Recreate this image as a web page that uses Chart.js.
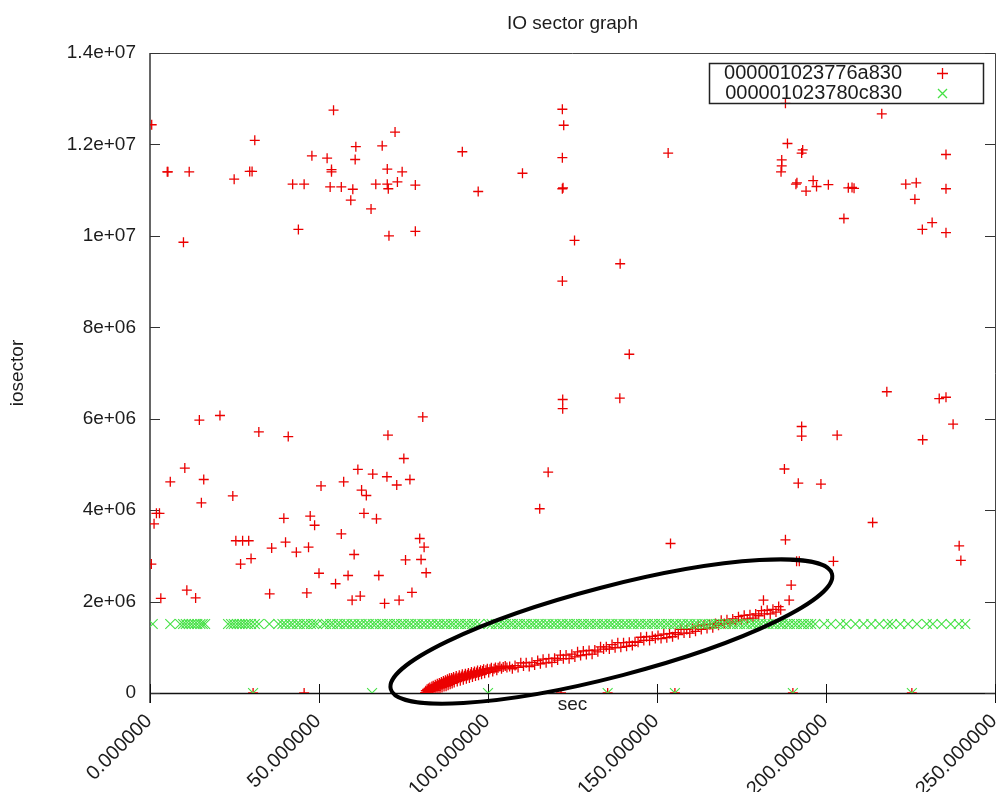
<!DOCTYPE html>
<html>
<head>
<meta charset="utf-8">
<title>IO sector graph</title>
<script src="https://cdn.jsdelivr.net/npm/chart.js@4.4.1/dist/chart.umd.min.js"></script>
<style>
  html, body { margin: 0; padding: 0; background: #fff; }
  #wrap { width: 998px; height: 792px; }
</style>
</head>
<body>
<div id="wrap"><canvas id="ioChart" width="998" height="792"></canvas></div>
<script>
// Axis ticks (gnuplot style labels)
const xTickValues = [0, 50, 100, 150, 200, 250];
const xTickLabels = ['0.000000', '50.000000', '100.000000', '150.000000', '200.000000', '250.000000'];
const yTickValues = [0, 2e6, 4e6, 6e6, 8e6, 10e6, 12e6, 14e6];
const yTickLabels = ['0', '2e+06', '4e+06', '6e+06', '8e+06', '1e+07', '1.2e+07', '1.4e+07'];

const seriesNames = ['000001023776a830', '000001023780c830'];

// Device 1: scattered random requests
const redSec = [
  0.5, 5.1, 5.3, 11.6, 9.9, 31.0, 24.9, 29.5, 30.2, 54.3, 47.9, 52.4, 60.9, 60.7, 68.7, 72.5,
  53.7, 53.7, 42.2, 45.6, 53.3, 56.6, 60.0, 59.4, 65.4, 66.8, 70.2, 74.6, 70.2, 70.5, 73.2, 78.5,
  43.9, 70.7, 78.5,
  122.0, 122.4, 92.4, 153.3, 110.2, 97.1, 122.0, 122.0, 122.2, 125.6, 139.1, 122.0, 141.8, 122.1,
  122.1, 139.0, 117.8, 115.3, 154.0,
  188.0, 216.5, 188.6, 193.1, 192.8, 186.9, 186.9, 186.7, 191.1, 191.4, 194.1, 196.2, 197.2, 200.7,
  206.6, 207.7, 208.3, 205.3, 223.6, 226.7, 226.3, 235.5, 235.5, 228.5, 231.4, 235.5, 218.0, 233.5,
  235.5, 237.6, 228.6, 192.8, 192.8, 203.3, 187.7, 191.8, 198.5, 213.8, 188.0, 239.4, 239.9, 191.3,
  192.1, 202.2, 189.7, 189.1, 181.5,
  14.6, 20.7, 32.2, 40.9, 70.4, 80.7, 75.1, 10.3, 6.0, 15.9, 15.2, 24.5, 50.6, 57.3, 61.5, 65.9,
  70.1, 73.0, 76.9, 62.6, 64.0, 63.3, 67.0, 1.9, 2.8, 1.2, 39.6, 47.4, 48.7, 56.6, 25.4, 27.4,
  29.2, 26.8, 29.9, 36.0, 40.1, 43.3, 46.9, 60.4, 50.0, 54.9, 58.6, 67.7, 75.6, 79.8, 81.1, 80.2,
  81.7, 0.4, 3.2, 10.9, 13.5, 35.4, 46.4, 59.8, 62.2, 69.4, 73.7, 77.5,
  30.5, 45.6, 121.6, 135.4, 155.3, 190.2, 225.4
];
const redSector = [
  12.43e6, 11.40e6, 11.40e6, 11.40e6, 9.86e6, 12.09e6, 11.24e6, 11.41e6, 11.41e6, 12.75e6, 11.75e6, 11.70e6, 11.95e6, 11.67e6, 11.97e6, 12.27e6,
  11.40e6, 11.45e6, 11.13e6, 11.13e6, 11.07e6, 11.07e6, 11.02e6, 10.78e6, 10.59e6, 11.13e6, 11.46e6, 11.40e6, 11.13e6, 11.03e6, 11.18e6, 11.11e6,
  10.14e6, 10.00e6, 10.10e6,
  12.77e6, 12.42e6, 11.84e6, 11.81e6, 11.37e6, 10.97e6, 11.71e6, 11.03e6, 11.05e6, 9.90e6, 9.39e6, 9.01e6, 7.41e6, 6.42e6,
  6.22e6, 6.45e6, 4.83e6, 4.03e6, 3.27e6,
  12.90e6, 12.67e6, 12.02e6, 11.88e6, 11.81e6, 11.66e6, 11.53e6, 11.40e6, 11.13e6, 11.16e6, 10.98e6, 11.21e6, 11.08e6, 11.12e6,
  11.05e6, 11.06e6, 11.04e6, 10.38e6, 11.13e6, 11.16e6, 10.80e6, 11.78e6, 11.03e6, 10.14e6, 10.29e6, 10.07e6, 6.59e6, 6.44e6,
  6.47e6, 5.88e6, 5.54e6, 5.83e6, 5.62e6, 5.64e6, 4.90e6, 4.59e6, 4.57e6, 3.73e6, 3.35e6, 3.22e6, 2.90e6, 2.88e6,
  2.88e6, 2.88e6, 2.36e6, 2.03e6, 2.03e6,
  5.97e6, 6.07e6, 5.71e6, 5.61e6, 5.64e6, 6.04e6, 5.13e6, 4.92e6, 4.62e6, 4.67e6, 4.16e6, 4.31e6, 4.53e6, 4.62e6, 4.89e6, 4.79e6,
  4.73e6, 4.55e6, 4.67e6, 4.44e6, 4.32e6, 3.93e6, 3.81e6, 3.93e6, 3.93e6, 3.70e6, 3.82e6, 3.87e6, 3.67e6, 3.48e6, 3.33e6, 3.33e6,
  3.33e6, 2.82e6, 2.94e6, 3.17e6, 3.30e6, 3.08e6, 3.19e6, 3.03e6, 2.62e6, 2.39e6, 2.57e6, 2.57e6, 2.91e6, 3.38e6, 3.19e6, 2.92e6,
  2.63e6, 2.82e6, 2.07e6, 2.25e6, 2.08e6, 2.17e6, 2.19e6, 2.03e6, 2.12e6, 1.96e6, 2.03e6, 2.20e6,
  0, 0, 0, 0, 0, 0, 0
];

// Device 1: the sequential run (sector climbs steadily with time)
const seqSec = [
  81.4, 81.6, 81.8, 82.0, 82.2, 82.4, 82.6, 82.8, 83.0, 83.2, 83.4, 83.6, 83.8, 84.0, 84.2, 84.4,
  84.6, 84.8, 85.0, 85.2, 85.4, 85.6, 85.8, 86.0, 86.2, 86.4, 86.6, 86.8, 87.0, 87.2, 87.4, 87.6,
  87.8, 88.0, 88.2, 88.4, 88.6, 88.8, 89.0, 89.2, 89.4, 89.6, 89.8, 90.0, 90.3, 90.6, 90.9, 91.2,
  91.5, 91.8, 92.1, 92.4, 92.7, 93.0, 93.3, 93.6, 93.9, 94.2, 94.5, 94.8, 95.1, 95.4, 95.7, 96.0,
  96.3, 96.6, 96.9, 97.2, 97.5, 97.8, 98.1, 98.4, 98.7, 99.0, 99.4, 99.8, 100.2, 100.6, 101.0, 101.4,
  101.8, 102.2, 102.6, 103.0, 103.5, 104.0, 104.5,
  105.1, 105.6, 106.4, 107.2, 108.0, 108.9, 109.7, 110.5, 111.3, 112.2, 113.0, 113.8, 114.7, 115.5,
  116.3, 117.2, 118.0, 118.9, 119.7, 120.6, 121.4, 122.3, 123.1, 124.0, 124.8, 125.7, 126.5, 127.4,
  128.2, 129.1, 129.9, 130.8, 131.6, 132.5, 133.3, 134.2, 135.0, 135.9, 136.7, 137.6, 138.4, 139.3,
  140.1, 141.0, 141.8, 142.7, 143.5, 144.4, 145.2, 146.1, 146.9, 147.8, 148.6, 149.5, 150.3, 151.2,
  152.0, 152.9, 153.7, 154.6, 155.4, 156.3, 157.1, 158.0, 158.8, 159.7, 160.5, 161.4, 162.2, 163.1,
  163.9, 164.8, 165.6, 166.5, 167.3, 168.2, 169.0, 169.9, 170.7, 171.6, 172.4, 173.3, 174.1, 175.0,
  175.8, 176.7, 177.5, 178.4, 179.2, 180.1, 180.9, 181.8, 182.6, 183.5, 184.3, 185.2, 186.0, 186.6
];
const seqSector = [
  0.01e6, 0.05e6, 0.02e6, 0.08e6, 0.03e6, 0.10e6, 0.04e6, 0.12e6, 0.03e6, 0.09e6, 0.14e6, 0.05e6, 0.16e6, 0.08e6, 0.13e6, 0.18e6,
  0.06e6, 0.15e6, 0.20e6, 0.09e6, 0.17e6, 0.22e6, 0.11e6, 0.19e6, 0.24e6, 0.12e6, 0.21e6, 0.26e6, 0.14e6, 0.23e6, 0.28e6, 0.15e6,
  0.25e6, 0.30e6, 0.17e6, 0.27e6, 0.32e6, 0.19e6, 0.28e6, 0.33e6, 0.21e6, 0.30e6, 0.35e6, 0.23e6, 0.32e6, 0.37e6, 0.25e6, 0.34e6,
  0.39e6, 0.27e6, 0.36e6, 0.41e6, 0.29e6, 0.38e6, 0.42e6, 0.31e6, 0.40e6, 0.44e6, 0.33e6, 0.41e6, 0.46e6, 0.35e6, 0.43e6, 0.47e6,
  0.37e6, 0.45e6, 0.49e6, 0.39e6, 0.46e6, 0.50e6, 0.41e6, 0.48e6, 0.52e6, 0.43e6, 0.50e6, 0.53e6, 0.45e6, 0.52e6, 0.55e6, 0.47e6,
  0.53e6, 0.56e6, 0.50e6, 0.55e6, 0.58e6, 0.53e6, 0.57e6,
  0.59e6, 0.56e6, 0.58e6, 0.53e6, 0.60e6, 0.56e6, 0.66e6, 0.59e6, 0.66e6, 0.58e6, 0.67e6, 0.61e6, 0.71e6, 0.64e6,
  0.74e6, 0.66e6, 0.75e6, 0.67e6, 0.76e6, 0.72e6, 0.83e6, 0.75e6, 0.83e6, 0.75e6, 0.85e6, 0.79e6, 0.90e6, 0.82e6,
  0.92e6, 0.84e6, 0.93e6, 0.85e6, 0.94e6, 0.90e6, 1.01e6, 0.96e6, 1.01e6, 0.96e6, 1.06e6, 0.99e6, 1.10e6, 1.00e6,
  1.10e6, 1.02e6, 1.11e6, 1.04e6, 1.12e6, 1.11e6, 1.22e6, 1.15e6, 1.23e6, 1.15e6, 1.24e6, 1.19e6, 1.26e6, 1.19e6,
  1.29e6, 1.21e6, 1.30e6, 1.23e6, 1.32e6, 1.28e6, 1.39e6, 1.31e6, 1.39e6, 1.31e6, 1.41e6, 1.35e6, 1.46e6, 1.39e6,
  1.49e6, 1.41e6, 1.50e6, 1.43e6, 1.52e6, 1.48e6, 1.59e6, 1.52e6, 1.60e6, 1.52e6, 1.62e6, 1.56e6, 1.67e6, 1.60e6,
  1.70e6, 1.62e6, 1.71e6, 1.64e6, 1.73e6, 1.69e6, 1.80e6, 1.73e6, 1.81e6, 1.73e6, 1.83e6, 1.77e6, 1.89e6, 1.82e6
];

// Device 2: almost every request hits the same sector
const greenBandSector = 1.51e6;
const greenSec = [
  0.8, 6.0, 8.9, 9.8, 10.6, 11.5, 12.3, 13.2, 14.0, 14.9, 15.6, 16.3,
  23.1, 24.0, 24.8, 25.7, 26.5, 27.3, 28.2, 29.0, 29.9, 31.0, 32.2, 35.3,
  38.0, 39.2, 40.1, 41.3, 42.2, 43.4, 44.3, 45.5, 46.4, 47.6, 48.5, 49.4, 51.2, 52.1, 53.3, 54.2,
  55.4, 56.3, 57.5, 58.4, 59.6, 60.5, 61.7, 62.6, 63.8, 64.7, 65.9, 66.8, 68.0, 68.9, 70.1, 71.0,
  72.2, 73.1, 74.3, 75.2, 76.4, 77.3, 78.5, 79.4, 80.6, 81.5, 82.7, 83.6, 84.8, 85.7, 86.9, 87.8,
  89.0, 89.9, 91.1, 92.0, 93.2, 94.1, 95.3, 96.2, 97.4, 100.2, 101.1, 102.3, 103.2, 104.4, 105.3,
  106.5, 107.4, 108.6, 109.5, 110.7, 111.6, 112.8, 113.7, 114.9, 115.8, 117.0, 117.9, 119.1, 120.0,
  121.2, 122.1, 123.3, 124.2, 125.4, 126.3, 127.5, 128.4, 129.6, 130.5, 131.7, 132.6, 133.8, 134.7,
  135.9, 136.8, 138.0, 138.9, 140.1, 141.0, 142.2, 143.1, 144.3, 145.2, 146.4, 147.3, 148.5, 149.4,
  150.6, 151.5, 152.7, 153.6, 154.8, 155.7, 156.9, 157.8, 159.0, 159.9, 161.1, 162.0, 163.2, 164.1,
  165.3, 166.2, 167.4, 168.3, 169.5, 170.4, 171.6, 172.5, 173.7, 174.6, 175.8, 176.7, 177.9, 178.8,
  180.0, 180.9, 182.1, 183.0, 184.2, 185.1, 186.3, 187.2, 188.4, 189.3, 190.5, 191.4, 192.6, 193.5,
  194.7, 195.6, 196.8,
  199.4, 201.5, 204.2, 206.0, 208.7, 211.1, 213.4, 215.8, 218.3, 219.5,
  222.0, 224.3, 226.9, 229.8, 231.6, 234.2, 236.9, 239.3, 241.2
];
const greenZeroSec = [30.5, 65.7, 100.0, 135.4, 155.3, 190.2, 225.4];

const RED = 'rgb(235, 0, 0)';
const GREEN = 'rgb(70, 225, 70)';
const FONT = '"Liberation Sans", Arial, sans-serif';
const TEXT = '#1c1c1c';

const toPoints = (xs, ys) => xs.map((x, i) => ({ x: x, y: ys[i] }));

const redPoints = toPoints(redSec, redSector).concat(toPoints(seqSec, seqSector));
const greenPoints = greenSec.map(x => ({ x: x, y: greenBandSector }))
  .concat(greenZeroSec.map(x => ({ x: x, y: 0 })));

// frame, ticks, rotated x labels, titles, key box and the highlight ring
const gnuplotLook = {
  id: 'gnuplotLook',
  beforeDatasetsDraw(chart) {
    const { ctx, chartArea: a, scales: { x, y } } = chart;
    ctx.save();
    // top + right border
    ctx.strokeStyle = '#444';
    ctx.lineWidth = 1;
    ctx.beginPath();
    ctx.moveTo(a.left, a.top + 0.5);
    ctx.lineTo(a.right + 0.5, a.top + 0.5);
    ctx.lineTo(a.right + 0.5, a.bottom);
    ctx.stroke();
    // left axis
    ctx.strokeStyle = '#666';
    ctx.lineWidth = 2;
    ctx.beginPath();
    ctx.moveTo(a.left, a.top);
    ctx.lineTo(a.left, a.bottom + 10);
    ctx.stroke();
    // bottom axis
    ctx.strokeStyle = '#111';
    ctx.lineWidth = 1.5;
    ctx.beginPath();
    ctx.moveTo(a.left, a.bottom + 0.5);
    ctx.lineTo(a.right + 1, a.bottom + 0.5);
    ctx.stroke();
    // y ticks, inward on both sides
    ctx.strokeStyle = '#333';
    ctx.lineWidth = 1;
    yTickValues.forEach(v => {
      const py = Math.round(y.getPixelForValue(v)) + 0.5;
      ctx.beginPath();
      ctx.moveTo(a.left, py); ctx.lineTo(a.left + 10, py);
      ctx.moveTo(a.right, py); ctx.lineTo(a.right - 10, py);
      ctx.stroke();
    });
    // x ticks across the axis, labels rotated 45 degrees
    ctx.strokeStyle = '#111';
    ctx.fillStyle = TEXT;
    ctx.font = '20px ' + FONT;
    ctx.textAlign = 'right';
    ctx.textBaseline = 'middle';
    xTickValues.forEach((v, i) => {
      const px = x.getPixelForValue(v);
      ctx.beginPath();
      ctx.moveTo(Math.round(px) + 0.5, a.bottom - 9);
      ctx.lineTo(Math.round(px) + 0.5, a.bottom + 10);
      ctx.stroke();
      ctx.save();
      ctx.translate(px - 1, a.bottom + 25);
      ctx.rotate(-Math.PI / 4);
      ctx.fillText(xTickLabels[i], 0, 0);
      ctx.restore();
    });
    ctx.restore();
  },
  afterDatasetsDraw(chart) {
    const { ctx, scales: { x, y } } = chart;
    // ring around the sequential run
    const cx = x.getPixelForValue(136.5);
    const cy = y.getPixelForValue(1.345e6);
    ctx.save();
    ctx.strokeStyle = '#000';
    ctx.lineWidth = 4;
    ctx.beginPath();
    ctx.ellipse(cx, cy, 228, 45, -14.6 * Math.PI / 180, 0, Math.PI * 2);
    ctx.stroke();
    ctx.restore();
  },
  afterDraw(chart) {
    const { ctx, chartArea: a } = chart;
    const midX = (a.left + a.right) / 2;
    ctx.save();
    ctx.fillStyle = TEXT;
    ctx.font = '19px ' + FONT;
    ctx.textAlign = 'center';
    ctx.textBaseline = 'middle';
    ctx.fillText('IO sector graph', midX, 24);
    ctx.fillText('sec', midX, a.bottom + 12);
    ctx.save();
    ctx.translate(18, (a.top + a.bottom) / 2);
    ctx.rotate(-Math.PI / 2);
    ctx.fillText('iosector', 0, 0);
    ctx.restore();

    // key box
    ctx.strokeStyle = '#222';
    ctx.lineWidth = 1.5;
    ctx.strokeRect(709.5, 63.5, 274, 40);
    ctx.textAlign = 'right';
    ctx.font = '20px ' + FONT;
    ctx.fillText(seriesNames[0], 902, 73.5);
    ctx.fillText(seriesNames[1], 902, 93.5);
    ctx.lineWidth = 1.3;
    ctx.strokeStyle = RED;
    ctx.beginPath();
    ctx.moveTo(937, 73.5); ctx.lineTo(948, 73.5);
    ctx.moveTo(942.5, 68); ctx.lineTo(942.5, 79);
    ctx.stroke();
    ctx.strokeStyle = GREEN;
    ctx.beginPath();
    ctx.moveTo(938, 89); ctx.lineTo(947, 98);
    ctx.moveTo(947, 89); ctx.lineTo(938, 98);
    ctx.stroke();
    ctx.restore();
  }
};

new Chart(document.getElementById('ioChart'), {
  type: 'scatter',
  data: {
    datasets: [
      {
        label: seriesNames[1],
        data: greenPoints,
        pointStyle: 'crossRot',
        pointRadius: 7,
        borderColor: GREEN,
        backgroundColor: GREEN,
        pointBorderWidth: 1.1
      },
      {
        label: seriesNames[0],
        data: redPoints,
        pointStyle: 'cross',
        pointRadius: 5,
        borderColor: RED,
        backgroundColor: RED,
        pointBorderWidth: 1.3
      }
    ]
  },
  options: {
    responsive: false,
    devicePixelRatio: 1,
    animation: false,
    events: [],
    layout: { autoPadding: false, padding: { top: 53, right: 3, left: 0, bottom: 0 } },
    plugins: {
      legend: { display: false },
      title: { display: false },
      tooltip: { enabled: false }
    },
    scales: {
      x: {
        type: 'linear',
        min: 0,
        max: 250,
        grid: { display: false },
        border: { display: false },
        ticks: { display: false },
        afterFit(scale) { scale.height = 99; }
      },
      y: {
        type: 'linear',
        min: 0,
        max: 14e6,
        grid: { display: false },
        border: { display: false },
        afterBuildTicks(scale) { scale.ticks = yTickValues.map(v => ({ value: v })); },
        afterFit(scale) { scale.width = 150; },
        ticks: {
          padding: 6,
          color: TEXT,
          font: { family: FONT, size: 19 },
          callback: (value, index) => yTickLabels[index]
        }
      }
    }
  },
  plugins: [gnuplotLook]
});
</script>
</body>
</html>
